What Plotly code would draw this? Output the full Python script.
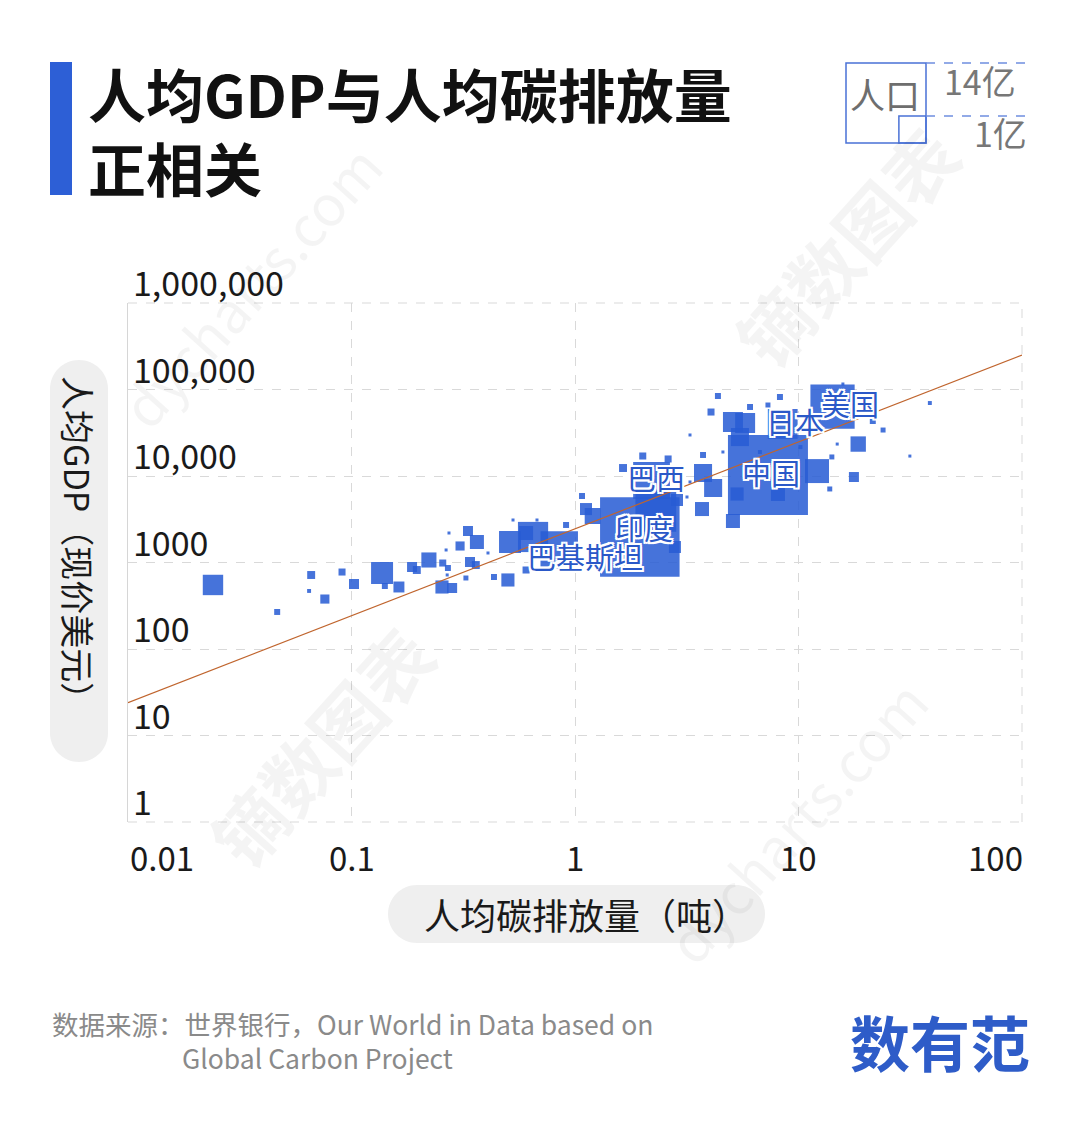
import math
import plotly.graph_objects as go

# 标注国家：人均碳排放量（吨）、人均GDP（现价美元）、人口（亿）
countries = ["中国", "印度", "美国", "日本", "巴西", "巴基斯坦"]
country_co2 = [7.3, 1.95, 14.2, 8.5, 2.2, 0.85]
country_gdp = [10300, 1970, 63500, 40000, 8900, 1400]
country_pop = [14.0, 13.8, 3.3, 1.26, 2.1, 2.2]

# 其余国家
other_co2 = [0.024, 0.0465, 0.066, 0.0646, 0.076, 0.0907, 0.1026, 0.137, 0.141, 0.163,
             0.1866, 0.196, 0.222, 0.256, 0.270, 0.273, 0.332, 0.306, 0.364, 0.339,
             0.36, 0.325, 0.254, 0.282, 0.268, 0.265, 0.408, 0.434, 0.501, 0.528,
             0.512, 0.649, 0.604, 0.604, 0.912, 1.075, 1.12, 1.20, 1.64, 2.01,
             2.61, 2.80, 3.27, 3.74, 3.74, 4.15, 3.70, 5.09, 5.31, 8.09,
             4.36, 4.06, 5.09, 5.77, 5.47, 6.07, 7.3, 8.26, 15.8, 21.5,
             23.9, 18.5, 31.5, 38.7, 17.7, 13.8, 14.1, 14.9, 12.1, 6.72,
             10.2, 3.17, 2.86, 4.59, 3.27, 0.676, 2.3]
other_gdp = [550, 268, 717, 469, 378, 776, 564, 756, 535, 521,
             887, 819, 1069, 986, 864, 2193, 2313, 1552, 1726, 1014,
             935, 662, 521, 507, 718, 1395, 1288, 680, 628, 3100,
             1726, 1972, 2193, 819, 2715, 5870, 4150, 3450, 12370, 17030,
             15730, 1510, 29800, 17500, 10830, 7265, 4150, 3020, 6190, 6190,
             84100, 54900, 42100, 41000, 28200, 62800, 66200, 81900, 115800, 43200,
             34000, 23400, 17000, 69800, 9730, 7080, 16600, 23400, 11400, 18950,
             21600, 5720, 5280, 18950, 8530, 3100, 3900]
other_pop = [0.5, 0.025, 0.05, 0.009, 0.07, 0.037, 0.088, 0.6, 0.025, 0.11,
             0.088, 0.05, 0.24, 0.037, 0.025, 0.004, 0.088, 0.07, 0.2, 0.088,
             0.05, 0.016, 0.17, 0.088, 0.004, 0.004, 0.004, 0.025, 0.17, 0.004,
             0.6, 1.3, 0.2, 0.037, 0.025, 0.025, 0.137, 0.276, 0.05, 0.037,
             0.037, 0.137, 0.004, 0.025, 0.37, 0.37, 0.2, 0.2, 0.17, 0.2,
             0.025, 0.037, 0.475, 0.475, 0.37, 0.025, 0.016, 0.025, 0.004, 0.025,
             0.016, 0.25, 0.004, 0.009, 0.088, 0.016, 0.016, 0.004, 0.74, 0.009,
             0.009, 0.004, 0.137, 0.004, 0.004, 0.004, 2.7]

# 趋势线
trend_x = [0.01, 100]
trend_y = [24, 250000]

x_ticks = [0.01, 0.1, 1, 10, 100]
x_tick_text = ["0.01", "0.1", "1", "10", "100"]
y_ticks = [1, 10, 100, 1000, 10000, 100000, 1000000]
y_tick_text = ["1", "10", "100", "1000", "10,000", "100,000", "1,000,000"]

FONT = "Noto Sans CJK SC"

# page body has an 8px margin, so the figure is drawn 8px in from the corner
OFF = 8
W, H = 1080 - 2 * OFF, 1137 - 2 * OFF
PX0, PX1, PY0, PY1 = 128, 1022, 303, 822          # plot area in page pixels
L, R, T, B = PX0 - OFF, (W + OFF) - PX1, PY0 - OFF, (H + OFF) - PY1
PW, PH = PX1 - PX0, PY1 - PY0


def pxx(x):
    return (x - PX0) / PW


def pxy(y):
    return (PY1 - y) / PH


def sq_size(p):
    return max(3, 80 * (p / 14) ** 0.41)


def pill(x0, y0, x1, y1, r):
    k = 0.5523 * r
    pts = [("M", x0 + r, y0), ("L", x1 - r, y0),
           ("C", x1 - r + k, y0, x1, y0 + r - k, x1, y0 + r), ("L", x1, y1 - r),
           ("C", x1, y1 - r + k, x1 - r + k, y1, x1 - r, y1), ("L", x0 + r, y1),
           ("C", x0 + r - k, y1, x0, y1 - r + k, x0, y1 - r), ("L", x0, y0 + r),
           ("C", x0, y0 + r - k, x0 + r - k, y0, x0 + r, y0)]
    s = ""
    for p in pts:
        s += p[0]
        vals = p[1:]
        s += " ".join(f"{pxx(vals[i]):.5f},{pxy(vals[i + 1]):.5f}" for i in range(0, len(vals), 2)) + " "
    return s + "Z"


def text(x, y, t, size, color, xanchor="center", yanchor="middle", **kw):
    return dict(x=pxx(x), y=pxy(y), xref="paper", yref="paper", text=t, showarrow=False,
                xanchor=xanchor, yanchor=yanchor,
                font=dict(family=FONT, size=size, color=color), **kw)


all_co2 = country_co2 + other_co2
all_gdp = country_gdp + other_gdp
all_pop = country_pop + other_pop
order = sorted(range(len(all_pop)), key=lambda i: -all_pop[i])

fig = go.Figure()
fig.add_trace(go.Scatter(
    x=[all_co2[i] for i in order], y=[all_gdp[i] for i in order],
    mode="markers",
    marker=dict(symbol="square", size=[sq_size(all_pop[i]) for i in order],
                color="rgba(40,92,212,0.86)", opacity=1, line=dict(width=0)),
    hoverinfo="skip", showlegend=False))
fig.add_trace(go.Scatter(
    x=trend_x, y=trend_y, mode="lines",
    line=dict(color="#c0652e", width=1.2),
    hoverinfo="skip", showlegend=False))

ann = []
# 水印
for t, cx, cy, sz in [("dycharts.com", 250, 285, 56), ("dycharts.com", 795, 820, 56),
                      ("<b>镝数图表</b>", 320, 745, 72), ("<b>镝数图表</b>", 845, 245, 72)]:
    ann.append(text(cx, cy, t, sz, "rgba(0,0,0,0.045)", textangle=-48))

# 刻度标签
for v, t in zip(y_ticks, y_tick_text):
    ann.append(dict(x=pxx(131), y=math.log10(v), xref="paper", yref="y", text=t,
                    xanchor="left", yanchor="bottom", yshift=-5, showarrow=False,
                    font=dict(family=FONT, size=34, color="#1a1a1a")))
for i, (v, t) in enumerate(zip(x_ticks, x_tick_text)):
    anchor = "left" if i == 0 else ("right" if i == len(x_ticks) - 1 else "center")
    shift = 3 if i == len(x_ticks) - 1 else 0
    ann.append(dict(x=math.log10(v), y=pxy(857), xref="x", yref="paper", text=t,
                    xanchor=anchor, yanchor="middle", xshift=shift, showarrow=False,
                    font=dict(family=FONT, size=33, color="#1a1a1a")))

# 国家标签
label_shift = {"中国": (3, 3), "印度": (4, 10), "美国": (17, 4), "日本": (12, 3),
               "巴西": (4, 3), "巴基斯坦": (26, -6)}
outline = ("-2px -2px 0 #fff, 2px -2px 0 #fff, -2px 2px 0 #fff, 2px 2px 0 #fff, "
           "0 2px 0 #fff, 0 -2px 0 #fff, 2px 0 0 #fff, -2px 0 0 #fff")
for name, cx, cy in zip(countries, country_co2, country_gdp):
    dx, dy = label_shift[name]
    ann.append(dict(x=math.log10(cx), y=math.log10(cy), xref="x", yref="y", text=name,
                    showarrow=False, xshift=dx, yshift=dy, xanchor="center", yanchor="middle",
                    font=dict(family=FONT, size=29, color="#2a58c8", shadow=outline)))

# 标题
ann.append(text(86, 93, "<b>人均GDP与人均碳排放量</b>", 58, "#111111", xanchor="left"))
ann.append(text(86, 167, "<b>正相关</b>", 58, "#111111", xanchor="left"))

# 轴标题
ann.append(text(79, 546, "人均GDP（现价美元）", 34, "#1a1a1a", textangle=90))
ann.append(text(586, 914, "人均碳排放量（吨）", 36, "#1a1a1a"))

# 图例
big, small = sq_size(14), sq_size(1)
lx1, ly1 = 926, 143
ann.append(text(lx1 - big / 2 - 1, 93, "人口", 35, "#6e6e6e"))
ann.append(text(980, 80, "14亿", 34, "#777777"))
ann.append(text(1000, 133, "1亿", 34, "#777777"))

# 来源与标志
ann.append(text(50, 1023, "数据来源：世界银行，Our World in Data based on", 26.5, "#8a8a8a", xanchor="left"))
ann.append(text(180, 1057, "Global Carbon Project", 26.5, "#8a8a8a", xanchor="left"))
ann.append(text(940, 1040, "<b>数有范</b>", 60, "#2e5cc8"))

shapes = [
    dict(type="rect", xref="paper", yref="paper", x0=pxx(50), x1=pxx(72), y0=pxy(62), y1=pxy(195),
         fillcolor="#2d5fd6", line=dict(width=0)),
    dict(type="path", xref="paper", yref="paper", path=pill(50, 360, 108, 762, 29),
         fillcolor="#efefef", line=dict(width=0), layer="below"),
    dict(type="path", xref="paper", yref="paper", path=pill(388, 885, 765, 943, 29),
         fillcolor="#efefef", line=dict(width=0), layer="below"),
    dict(type="rect", xref="paper", yref="paper", x0=pxx(lx1 - big), x1=pxx(lx1),
         y0=pxy(ly1 - big), y1=pxy(ly1), line=dict(color="#4a72d6", width=1.5)),
    dict(type="rect", xref="paper", yref="paper", x0=pxx(lx1 - small), x1=pxx(lx1),
         y0=pxy(ly1 - small), y1=pxy(ly1), line=dict(color="#4a72d6", width=1.5)),
    dict(type="line", xref="paper", yref="paper", x0=pxx(lx1), x1=pxx(1030),
         y0=pxy(ly1 - big), y1=pxy(ly1 - big), line=dict(color="#6f8fe0", width=1.5, dash="dash")),
    dict(type="line", xref="paper", yref="paper", x0=pxx(lx1), x1=pxx(1030),
         y0=pxy(ly1 - small), y1=pxy(ly1 - small), line=dict(color="#6f8fe0", width=1.5, dash="dash")),
    # 图区右边与上下的虚线边框
    dict(type="line", xref="paper", yref="paper", x0=1, x1=1, y0=0, y1=1, layer="below",
         line=dict(color="#d9d9d9", width=1, dash="dash")),
    dict(type="line", xref="paper", yref="paper", x0=0, x1=1, y0=1, y1=1, layer="below",
         line=dict(color="#d9d9d9", width=1, dash="dash")),
    dict(type="line", xref="paper", yref="paper", x0=0, x1=1, y0=0, y1=0, layer="below",
         line=dict(color="#d9d9d9", width=1, dash="dash")),
]

fig.update_layout(
    width=W, height=H,
    margin=dict(l=L, r=R, t=T, b=B),
    paper_bgcolor="white", plot_bgcolor="white",
    font=dict(family=FONT),
    xaxis=dict(type="log", range=[-2, 2], tickvals=x_ticks, showticklabels=False, ticks="",
               showgrid=True, gridcolor="#d9d9d9", griddash="dash", gridwidth=1,
               showline=False, zeroline=False),
    yaxis=dict(type="log", range=[0, 6], tickvals=y_ticks, showticklabels=False, ticks="",
               showgrid=True, gridcolor="#d9d9d9", griddash="dash", gridwidth=1,
               showline=True, linecolor="#d6d6d6", linewidth=1, zeroline=False),
    annotations=ann,
    shapes=shapes,
)

fig.write_html("out.html")
